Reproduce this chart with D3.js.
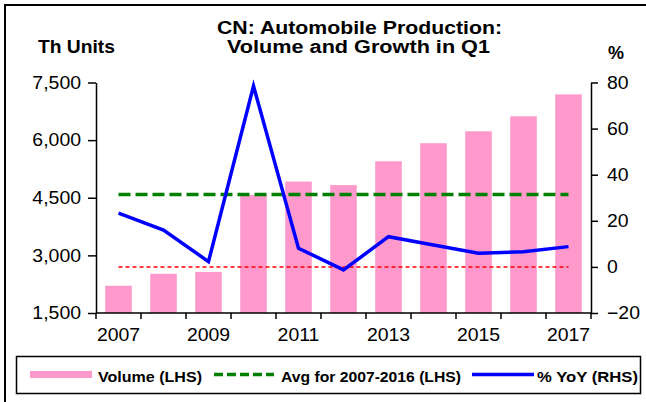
<!DOCTYPE html>
<html>
<head>
<meta charset="utf-8">
<script src="https://cdn.jsdelivr.net/npm/d3@7"></script>
<style>
  html, body { margin: 0; padding: 0; background: #fff; }
  svg { display: block; font-family: "Liberation Sans", Arial, sans-serif; }
</style>
</head>
<body>
<svg id="chart" width="646" height="402"></svg>
<script>
// ---- data ----
const years = [2007, 2008, 2009, 2010, 2011, 2012, 2013, 2014, 2015, 2016, 2017];
const volume = [2210, 2520, 2570, 4570, 4920, 4830, 5450, 5920, 6230, 6620, 7190];
const yoy = [23.3, 16.0, 2.3, 78.5, 8.1, -1.3, 13.1, 9.5, 5.9, 6.6, 8.8];
const avgYears = [2007, 2016];
const leftTicks = [1500, 3000, 4500, 6000, 7500];
const rightTicks = [-20, 0, 20, 40, 60, 80];
const xLabelYears = [2007, 2009, 2011, 2013, 2015, 2017];
const titleLines = ["CN: Automobile Production:", "Volume and Growth in Q1"];
const legendLabels = ["Volume (LHS)", "Avg for 2007-2016 (LHS)", "% YoY (RHS)"];

// average over 2007-2016 (from the volume data)
const avgVals = volume.filter((v, i) => years[i] >= avgYears[0] && years[i] <= avgYears[1]);
const avg = d3.mean(avgVals);

const svg = d3.select("#chart");

// outer frame (right & bottom edges off canvas)
svg.append("rect").attr("x", 5).attr("y", 5).attr("width", 660).attr("height", 420)
  .attr("fill", "none").attr("stroke", "#000").attr("stroke-width", 2);

const L = 96, R = 591, T = 82.5, B = 313;

const x = d3.scaleBand().domain(years).range([L, R]).paddingInner(0.41).paddingOuter(0.205);
const yL = d3.scaleLinear().domain([1500, 7500]).range([B, T]);
const yR = d3.scaleLinear().domain([-20, 80]).range([B, T]);
const xEdge = d3.scaleLinear().domain([0, years.length]).range([L, R]);

// bars
svg.append("g").selectAll("rect").data(years).join("rect")
  .attr("x", d => x(d))
  .attr("width", x.bandwidth())
  .attr("y", (d, i) => yL(volume[i]))
  .attr("height", (d, i) => B - yL(volume[i]))
  .attr("fill", "#ff99cc");

const cx = d => x(d) + x.bandwidth() / 2;

// zero line (RHS)
svg.append("line")
  .attr("x1", cx(years[0])).attr("x2", cx(years[years.length - 1]))
  .attr("y1", yR(0)).attr("y2", yR(0))
  .attr("stroke", "#ff0000").attr("stroke-width", 1.5).attr("stroke-dasharray", "4,3");

// average line (LHS)
svg.append("line")
  .attr("x1", cx(years[0])).attr("x2", cx(years[years.length - 1]))
  .attr("y1", yL(avg)).attr("y2", yL(avg))
  .attr("stroke", "#008000").attr("stroke-width", 3.5).attr("stroke-dasharray", "12,5");

// yoy line
const line = d3.line().x((d, i) => cx(years[i])).y(d => yR(d));
svg.append("path").datum(yoy)
  .attr("d", line)
  .attr("fill", "none").attr("stroke", "#0000ff").attr("stroke-width", 3.5)
  .attr("stroke-linejoin", "miter");

// axes
const fontSize = 18;
const leftAxis = svg.append("g").attr("transform", `translate(${L},0)`)
  .call(d3.axisLeft(yL).tickValues(leftTicks).tickFormat(d3.format(",")).tickSize(8).tickSizeOuter(0).tickPadding(7));
const rightAxis = svg.append("g").attr("transform", `translate(${R},0)`)
  .call(d3.axisRight(yR).tickValues(rightTicks).tickSize(7).tickSizeOuter(0).tickPadding(9));
const bottomAxis = svg.append("g").attr("transform", `translate(0,${B})`)
  .call(d3.axisBottom(x).tickValues(xLabelYears).tickSize(0).tickSizeOuter(0).tickPadding(15));
bottomAxis.select(".domain").attr("d", `M${L},0H${R}`);
bottomAxis.selectAll(".edgeTick").data(d3.range(years.length + 1)).join("line")
  .attr("class", "edgeTick")
  .attr("x1", d => xEdge(d)).attr("x2", d => xEdge(d))
  .attr("y1", 0).attr("y2", 6).attr("stroke", "#000").attr("stroke-width", 1.5);

[leftAxis, rightAxis, bottomAxis].forEach(g => {
  g.selectAll(".domain").attr("stroke", "#000").attr("stroke-width", 1.5);
  g.selectAll(".tick line").attr("stroke", "#000").attr("stroke-width", 1.5);
  g.selectAll("text").attr("font-size", fontSize).attr("fill", "#000")
    .attr("font-family", '"Liberation Sans", Arial, sans-serif')
    .each(function () {
      const w = this.getComputedTextLength();
      d3.select(this).attr("textLength", w * 1.08).attr("lengthAdjust", "spacingAndGlyphs");
    });
});

// title
svg.append("text").attr("x", 359.5).attr("y", 34).attr("text-anchor", "middle")
  .attr("font-size", 18).attr("font-weight", "bold")
  .attr("textLength", 285).attr("lengthAdjust", "spacingAndGlyphs").text(titleLines[0]);
svg.append("text").attr("x", 358.5).attr("y", 53).attr("text-anchor", "middle")
  .attr("font-size", 18).attr("font-weight", "bold")
  .attr("textLength", 263).attr("lengthAdjust", "spacingAndGlyphs").text(titleLines[1]);

// axis titles
svg.append("text").attr("x", 38).attr("y", 53).attr("font-size", 18).attr("font-weight", "bold")
  .attr("textLength", 77).attr("lengthAdjust", "spacingAndGlyphs").text("Th Units");
svg.append("text").attr("x", 608).attr("y", 59).attr("font-size", 18).attr("font-weight", "bold")
  .text("%");

// legend
svg.append("rect").attr("x", 16.5).attr("y", 356.5).attr("width", 624).attr("height", 37)
  .attr("fill", "#fff").attr("stroke", "#000").attr("stroke-width", 1.5);
const ly = 374.5, lty = 381.5;
svg.append("rect").attr("x", 30).attr("y", 371).attr("width", 62).attr("height", 7).attr("fill", "#ff99cc");
svg.append("line").attr("x1", 214).attr("x2", 274).attr("y1", ly).attr("y2", ly)
  .attr("stroke", "#008000").attr("stroke-width", 3.5).attr("stroke-dasharray", "9,4");
svg.append("line").attr("x1", 472).attr("x2", 534).attr("y1", ly).attr("y2", ly)
  .attr("stroke", "#0000ff").attr("stroke-width", 3.5);
const legendPos = [[98, 104], [281, 180], [537, 101]];
legendLabels.forEach((t, i) => {
  svg.append("text").attr("x", legendPos[i][0]).attr("y", lty)
    .attr("font-size", 15).attr("font-weight", "bold")
    .attr("textLength", legendPos[i][1]).attr("lengthAdjust", "spacingAndGlyphs").text(t);
});
</script>
</body>
</html>
